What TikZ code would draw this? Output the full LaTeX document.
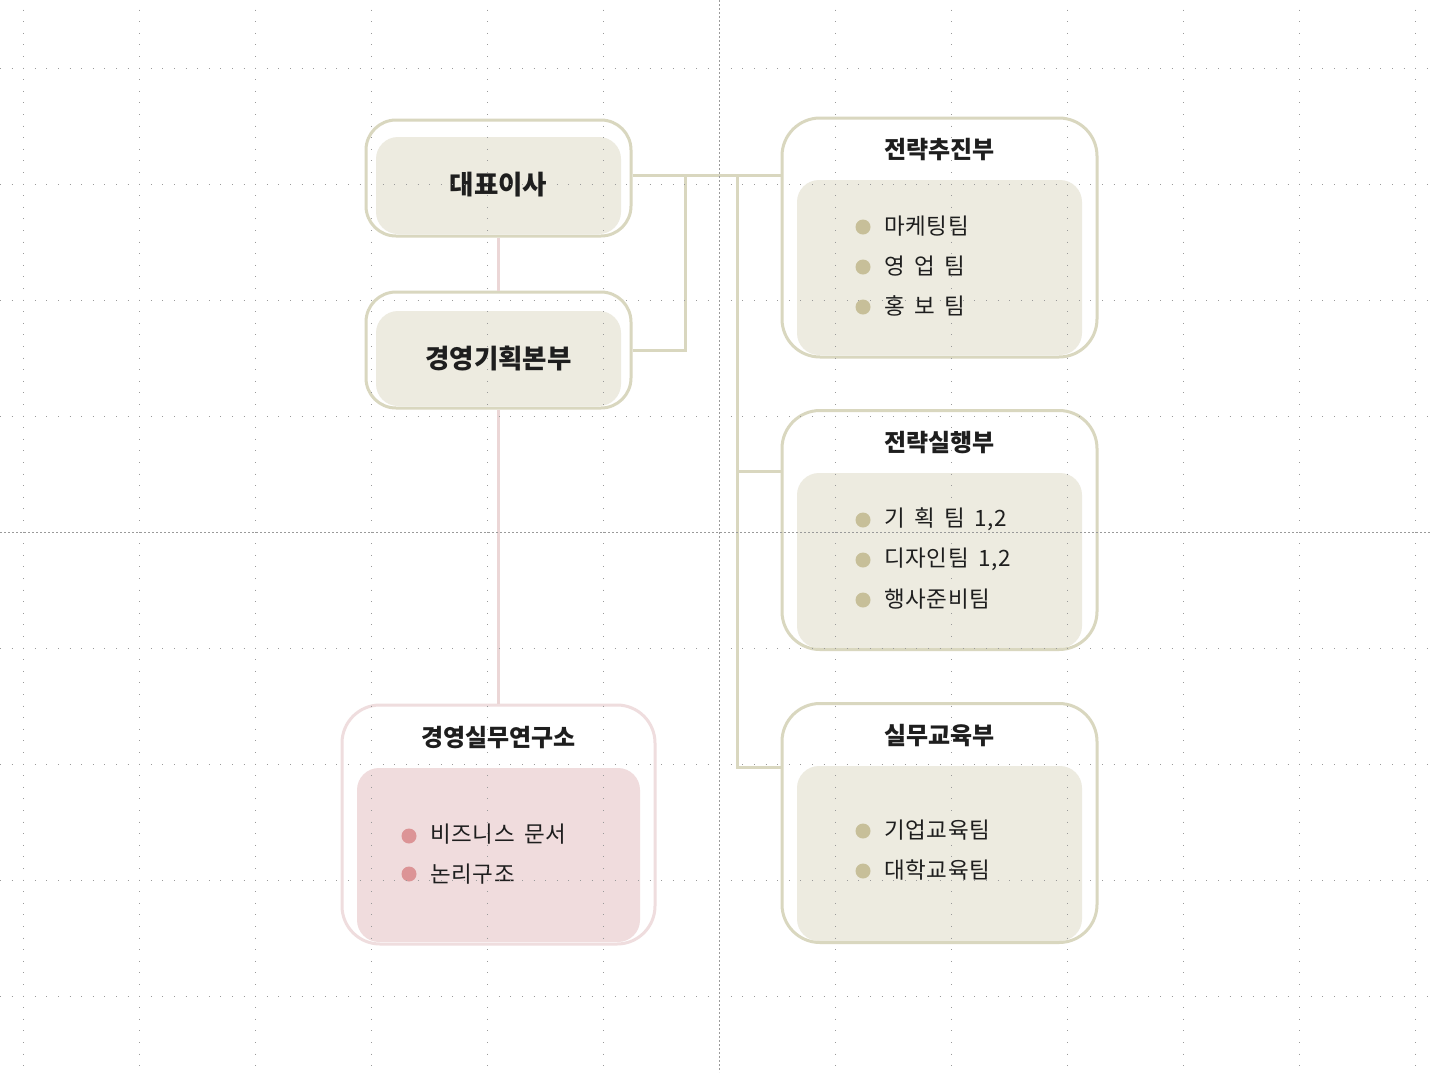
\documentclass[tikz,border=0pt]{standalone}
\usepackage{fontspec}
\setmainfont{Noto Sans CJK KR}
\newfontfamily\itemfont{Noto Sans CJK KR}[LetterSpace=3]
\newcommand{\wsp}{\hspace{0.42em}}
\usetikzlibrary{calc}
\definecolor{beigeline}{HTML}{D9D7BF}
\definecolor{beigefill}{HTML}{EDEBE0}
\definecolor{beigedot}{HTML}{C7BF99}
\definecolor{pinkline}{HTML}{EFDDDE}
\definecolor{pinkconn}{HTML}{EBD6D6}
\definecolor{pinkfill}{HTML}{F0DCDD}
\definecolor{pinkdot}{HTML}{DC9496}
\definecolor{txt}{HTML}{1E1E1E}
\definecolor{gridc}{HTML}{9A9A9A}
\begin{document}
\begin{tikzpicture}[x=1pt,y=-1pt,
  outerbox/.style={draw=beigeline, line width=3pt, rounded corners=30pt, inner sep=0pt},
  bigbox/.style={outerbox, rounded corners=38pt, minimum width=315pt, minimum height=239pt},
  innerfill/.style={fill=beigefill, rounded corners=22pt, inner sep=0pt},
  conn/.style={draw=beigeline, line width=3pt},
  pconn/.style={draw=pinkconn, line width=3pt},
  headtxt/.style={font=\bfseries\fontsize{26.5}{30}\selectfont, text=txt},
  titletxt/.style={font=\bfseries\fontsize{24}{28}\selectfont, text=txt},
  itemtxt/.style={font=\itemfont\fontsize{22.5}{26}\selectfont, text=txt, anchor=west, inner sep=0pt},
  griddot/.style={draw=gridc, line width=0.9pt, dash pattern=on 0.9pt off 10.7pt},
  gridmid/.style={draw=gridc, line width=0.7pt, dash pattern=on 2pt off 2pt}
]
\useasboundingbox (0,0) rectangle (1430,1072);
\fill[white] (0,0) rectangle (1430,1072);

% ---------- left column ----------
\node[innerfill, minimum width=245pt, minimum height=97pt] (ceoin) at (498.5,185.5) {};
\node[outerbox, minimum width=265pt, minimum height=116pt] (ceo) at (498.5,178) {};
\node[headtxt] (ceot) at (498.5,185) {대표이사};

\node[innerfill, minimum width=245pt, minimum height=95pt] (planin) at (498.5,358.5) {};
\node[outerbox, minimum width=265pt, minimum height=116pt] (plan) at (498.5,350) {};
\node[headtxt] (plant) at (498.5,359) {경영기획본부};

\node[innerfill, fill=pinkfill, minimum width=283pt, minimum height=174pt] (labin) at (498.5,855) {};
\node[outerbox, draw=pinkline, rounded corners=38pt, minimum width=313pt, minimum height=239pt] (lab) at (498.5,824.5) {};
\node[titletxt] (labt) at (498.5,738) {경영실무연구소};
\node[itemtxt] (laba) at (430,834) {비즈니스\wsp 문서};
\node[itemtxt] (labb) at (430,874) {논리구조};
\fill[pinkdot] ($(laba.west)+(-21,2)$) circle (7.5pt);
\fill[pinkdot] ($(labb.west)+(-21,0)$) circle (7.5pt);

% ---------- right column ----------
\node[innerfill, minimum width=285pt, minimum height=175pt] (r1in) at (939.5,267.5) {};
\node[bigbox] (r1) at (939.5,237.5) {};
\node[titletxt] (r1t) at (939.5,150) {전략추진부};
\node[itemtxt] (r1a) at (884,226) {마케팅팀};
\node[itemtxt] (r1b) at (884,266) {영\wsp 업\wsp 팀};
\node[itemtxt] (r1c) at (884,306) {홍\wsp 보\wsp 팀};
\foreach \n in {r1a,r1b,r1c} \fill[beigedot] ($(\n.west)+(-21,1)$) circle (7.5pt);

\node[innerfill, minimum width=285pt, minimum height=175pt] (r2in) at (939.5,560.5) {};
\node[bigbox] (r2) at (939.5,530) {};
\node[titletxt] (r2t) at (939.5,443) {전략실행부};
\node[itemtxt] (r2a) at (884,519) {기\wsp 획\wsp 팀\wsp 1,2};
\node[itemtxt] (r2b) at (884,559) {디자인팀\wsp 1,2};
\node[itemtxt] (r2c) at (884,599) {행사준비팀};
\foreach \n in {r2a,r2b,r2c} \fill[beigedot] ($(\n.west)+(-21,1)$) circle (7.5pt);

\node[innerfill, minimum width=285pt, minimum height=175pt] (r3in) at (939.5,853.5) {};
\node[bigbox] (r3) at (939.5,823) {};
\node[titletxt] (r3t) at (939.5,736) {실무교육부};
\node[itemtxt] (r3a) at (884,830) {기업교육팀};
\node[itemtxt] (r3b) at (884,870) {대학교육팀};
\foreach \n in {r3a,r3b} \fill[beigedot] ($(\n.west)+(-21,1)$) circle (7.5pt);

% ---------- connectors ----------
\coordinate (j1) at (685,175);
\coordinate (j2) at (737,175);
\draw[conn] ([yshift=3pt]ceo.east) -- ([yshift=3pt]ceo.east -| r1.west);
\draw[conn] (plan.east) -| (j1);
\draw[conn] (j2) |- ([yshift=-62pt]r2.north west);
\draw[conn] (j2) |- ([yshift=-65pt]r3.north west);
\draw[pconn] (ceo.south) -- (plan.north);
\draw[pconn] (plan.south) -- (lab.north);

% ---------- grid overlay ----------
\foreach \k in {0,...,12}{
  \ifnum\k=6\relax\else
    \draw[griddot] (23.5+116*\k,9.6) -- (23.5+116*\k,1072);
  \fi}
\foreach \k in {0,...,8}{
  \ifnum\k=4\relax\else
    \draw[griddot] (0,68+116*\k) -- (1430,68+116*\k);
  \fi}
\draw[gridmid] (719.5,0) -- (719.5,1072);
\draw[gridmid] (0,532) -- (1430,532);
\end{tikzpicture}
\end{document}
